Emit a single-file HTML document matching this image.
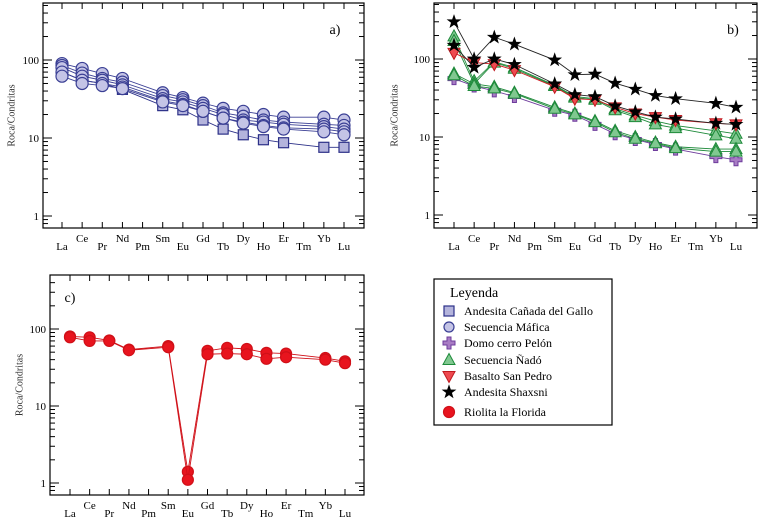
<!DOCTYPE html>
<html><head><meta charset="utf-8">
<style>
html,body{margin:0;padding:0;background:#fff;}
svg{display:block;font-family:"Liberation Serif",serif;}
</style></head>
<body>
<svg id="svg" width="760" height="520" viewBox="0 0 760 520"></svg>
<script>
const elements=["La","Ce","Pr","Nd","Pm","Sm","Eu","Gd","Tb","Dy","Ho","Er","Tm","Yb","Lu"];
const measured=["La","Ce","Pr","Nd","Sm","Eu","Gd","Tb","Dy","Ho","Er","Yb","Lu"];
const yTicks=[1,10,100];
const yTickLabels=["1","10","100"];
// panel a
const canadaSq=[[70,55,50,42,26,23,17,13,11,9.5,8.7,7.6,7.6]];
const maficaCirc=[
 [90,78,67,58,38,33,28,24,22,20,18.5,18.5,17],
 [85,68,58,52,35,31,26,21,19,17,16,15,14.5],
 [80,62,55,48,32,29,24,20,17,16,15,14,13],
 [70,55,50,45,30,27,22,18,16,14.5,13.5,13,12],
 [62,50,47,43,29,26,22,18,15.5,14,13,12,11]];
// panel b
const pelonCross=[[56,45,39,33,22,19,14.5,11,9.3,8,7,5.6,5.1]];
const nadoTri=[
 [195,52,92,78,46,33,31,23,19,16,14,12,11],
 [170,48,90,75,45,32,30,22,18,14.5,13,10.5,9.5],
 [65,48,44,37,24,20,16,12,10,8.5,7.5,7,7],
 [62,45,42,36,23,19.5,15.5,11.5,9.5,8.3,7.2,6.5,6.5]];
const sanPedroTri=[[120,90,86,72,44,31,30,24,20,18,16.5,15,14.5]];
const shaxsniStar=[
 [300,100,190,155,97,63,64,49,41,34,31,27,24],
 [150,78,100,85,48,35,33,25,21,18,17,15,14.5]];
// panel c
const floridaCirc=[
 [80,78,71,54,60,1.4,52,57,55,49,48,42,38],
 [78,70,70,53,58,1.1,47,48,47,41,43,40,36]];

const NS="http://www.w3.org/2000/svg";
const svg=document.getElementById('svg');
function mk(tag,attrs,parent){const e=document.createElementNS(NS,tag);for(const k in attrs)e.setAttribute(k,attrs[k]);(parent||svg).appendChild(e);return e;}

const panels=[
 {id:'a',box:[43,3,364,228],la:62,lu:344,y1:216,y10:138,lab:[335,34],labAnchor:'middle',ylabX:12},
 {id:'b',box:[434,3,757,228],la:454,lu:736,y1:215,y10:137,lab:[733,34],labAnchor:'middle',ylabX:395},
 {id:'c',box:[50,275,364,495],la:70,lu:345,y1:483,y10:406,lab:[70,302],labAnchor:'middle',ylabX:20}
];
function xs(p,el){const i=elements.indexOf(el);return p.la+(p.lu-p.la)*i/14;}
function ys(p,v){return p.y1-(p.y1-p.y10)*Math.log10(v);}

panels.forEach(p=>{
 const g=mk('g',{});
 
 
 const [x0,y0,x1,y1]=p.box;
 const r=mk('rect',{x:x0,y:y0,width:x1-x0,height:y1-y0,fill:'none',stroke:'#000','stroke-width':1.2},g);
 
 
 for(let d=-1;d<=3;d++){for(let m=1;m<=9;m++){const v=m*Math.pow(10,d);const y=ys(p,v);if(y<y0+1||y>y1-1)continue;const L=m===1?9:5;
  mk('line',{x1:x0,x2:x0+L,y1:y,y2:y,stroke:'#000','stroke-width':1},g);
  mk('line',{x1:x1,x2:x1-L,y1:y,y2:y,stroke:'#000','stroke-width':1},g);}}
 yTicks.forEach((v,i)=>{const t=mk('text',{x:x0-4,y:ys(p,v)+4,'text-anchor':'end','font-size':11},g);t.textContent=yTickLabels[i];
  });
 elements.forEach((el,i)=>{const x=xs(p,el);
  mk('line',{x1:x,x2:x,y1:y1,y2:y1-6,stroke:'#000','stroke-width':1},g);
  mk('line',{x1:x,x2:x,y1:y0,y2:y0+6,stroke:'#000','stroke-width':1},g);
  const t=mk('text',{x:x,y:y1+(i%2===0?22:14),'text-anchor':'middle','font-size':11},g);t.textContent=el;
  });
 const cy=(y0+y1)/2;
 const yl=mk('text',{x:p.ylabX,y:cy,transform:`rotate(-90 ${p.ylabX} ${cy})`,'text-anchor':'middle','font-size':10,fill:'#333','dominant-baseline':'central'},g);
 yl.textContent='Roca/Condritas';
 
 const pl=mk('text',{x:p.lab[0],y:p.lab[1],'text-anchor':p.labAnchor,'font-size':14},g);pl.textContent=p.id+')';
 
 p.g=g;
});

function marker(g,type,x,y,st){
 let e;
 if(type==='sq')e=mk('rect',{x:x-5,y:y-5,width:10,height:10,fill:st.fill,stroke:st.stroke,'stroke-width':1.2},g);
 else if(type==='circ')e=mk('circle',{cx:x,cy:y,r:st.r||5.5,fill:st.fill,stroke:st.stroke,'stroke-width':1.2},g);
 else if(type==='tri')e=mk('path',{d:`M${x},${y-6.5}L${x+6},${y+4.5}L${x-6},${y+4.5}Z`,fill:st.fill,stroke:st.stroke,'stroke-width':1},g);
 else if(type==='tridown')e=mk('path',{d:`M${x},${y+6.5}L${x+6},${y-4.5}L${x-6},${y-4.5}Z`,fill:st.fill,stroke:st.stroke,'stroke-width':1},g);
 else if(type==='cross')e=mk('path',{d:`M${x-2},${y-6}h4v4h4v4h-4v4h-4v-4h-4v-4h4z`,fill:st.fill,stroke:st.stroke,'stroke-width':1},g);
 else if(type==='star'){let d='';for(let k=0;k<10;k++){const a=-Math.PI/2+k*Math.PI/5;const rr=k%2?2.7:6.8;d+=(k?'L':'M')+(x+rr*Math.cos(a)).toFixed(1)+','+(y+rr*Math.sin(a)).toFixed(1);}e=mk('path',{d:d+'Z',fill:st.fill,stroke:st.stroke,'stroke-width':0.6},g);}
 return e;
}
function drawSeries(p,data,type,st,name){
 data.forEach((s,si)=>{
  const sg=mk('g',{},p.g);
  
  
  const pts=s.map((v,i)=>[xs(p,measured[i]),ys(p,v)]);
  const ln=mk('polyline',{points:pts.map(q=>q.join(',')).join(' '),fill:'none',stroke:st.line,'stroke-width':0.9},sg);
  
  
  pts.forEach((q,i)=>{const m=marker(sg,type,q[0],q[1],st);
   
   });
 });
}
const P=Object.fromEntries(panels.map(p=>[p.id,p]));
const stSq={fill:'#b4b4dc',stroke:'#2c3088',line:'#2c3088'};
const stCi={fill:'#c4c4e6',stroke:'#3a3f94',line:'#3a3f94',r:6};
const stCr={fill:'#a87cc4',stroke:'#6e3c9c',line:'#6e3c9c'};
const stTr={fill:'#80c890',stroke:'#1e8a3a',line:'#1e8a3a'};
const stTd={fill:'#ee4a50',stroke:'#c01a20',line:'#d01a20'};
const stSt={fill:'#000',stroke:'#000',line:'#222'};
const stRd={fill:'#e8141e',stroke:'#d01018',line:'#d01018',r:5.5};
drawSeries(P.a,canadaSq,'sq',stSq,'andesita-canada');
drawSeries(P.a,maficaCirc,'circ',stCi,'secuencia-mafica');
drawSeries(P.b,pelonCross,'cross',stCr,'domo-pelon');
drawSeries(P.b,nadoTri,'tri',stTr,'secuencia-nado');
drawSeries(P.b,sanPedroTri,'tridown',stTd,'basalto-san-pedro');
drawSeries(P.b,shaxsniStar,'star',stSt,'andesita-shaxsni');
drawSeries(P.c,floridaCirc,'circ',stRd,'riolita-florida');

const lg=mk('g',{});


mk('rect',{x:434,y:279,width:178,height:146,fill:'#fff',stroke:'#000','stroke-width':1.2},lg);
const lt=mk('text',{x:450,y:297,'font-size':14},lg);lt.textContent='Leyenda';

const legendNames=["Andesita Cañada del Gallo","Secuencia Máfica","Domo cerro Pelón","Secuencia Ñadó","Basalto San Pedro","Andesita Shaxsni","Riolita la Florida"];
const legendTypes=['sq','circ','cross','tri','tridown','star','circ'];
const legendSt=[stSq,{...stCi,r:5},stCr,stTr,stTd,stSt,stRd];
const legendY=[311,327,343,360,376,392,412];
legendNames.forEach((n,i)=>{
 const eg=mk('g',{},lg);
 
 
 marker(eg,legendTypes[i],449,legendY[i],legendSt[i]);
 const t=mk('text',{x:464,y:legendY[i]+4,'font-size':12},eg);t.textContent=n;
});
</script>
</body></html>
